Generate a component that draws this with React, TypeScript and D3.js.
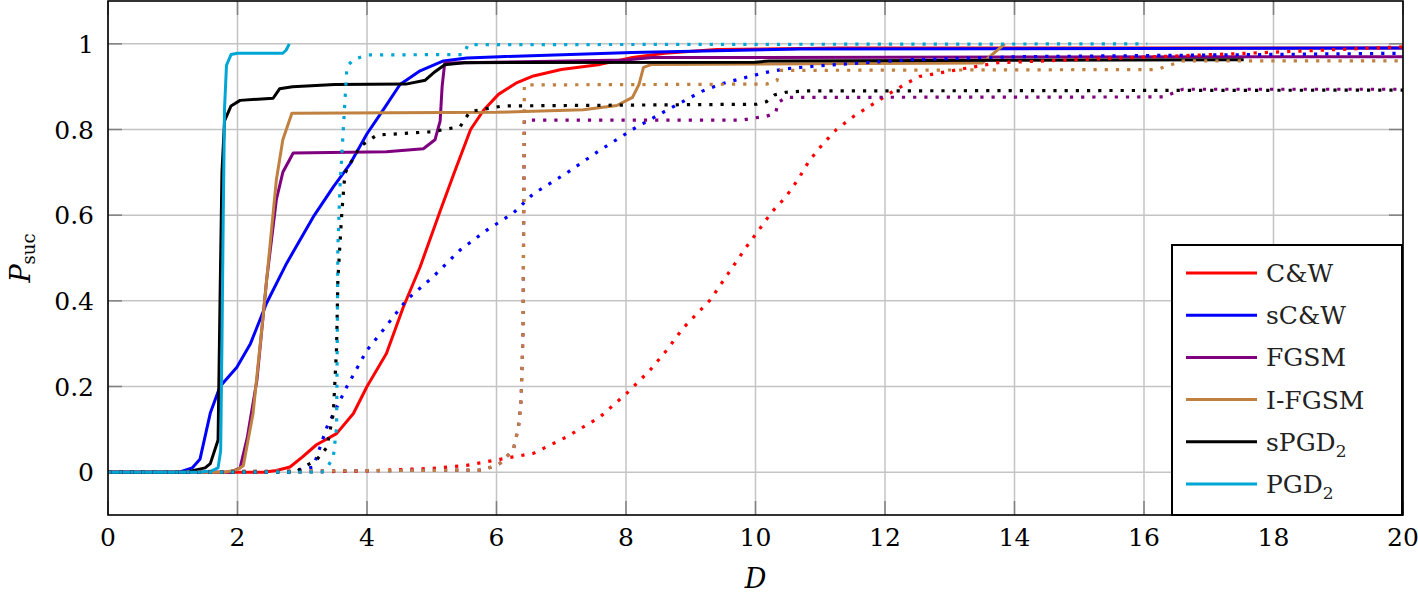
import React from 'react';
import * as d3 from 'd3';

type Pt = [number, number];

// solid curves
const cwSolid: Pt[] = [[0,0],[2.4,0],[2.6,0.004],[2.81,0.012],[3.0,0.035],[3.22,0.064],[3.53,0.09],[3.79,0.137],[4.0,0.2],[4.3,0.277],[4.56,0.385],[4.82,0.479],[5.13,0.61],[5.35,0.7],[5.6,0.8],[5.8,0.845],[6.03,0.882],[6.3,0.908],[6.57,0.925],[7.0,0.94],[7.6,0.952],[8.1,0.968],[8.6,0.978],[9.4,0.987],[11.3,0.99],[20,0.99]];
const scwSolid: Pt[] = [[0,0],[1.1,0],[1.3,0.01],[1.42,0.03],[1.58,0.138],[1.73,0.2],[1.99,0.245],[2.2,0.3],[2.45,0.395],[2.76,0.488],[3.17,0.596],[3.48,0.666],[3.74,0.72],[4.0,0.79],[4.25,0.846],[4.51,0.905],[4.82,0.937],[5.18,0.96],[5.54,0.967],[6.05,0.97],[8.1,0.98],[10.7,0.988],[20,0.99]];
const fgsmSolid: Pt[] = [[0,0],[1.9,0],[2.04,0.01],[2.15,0.08],[2.3,0.215],[2.45,0.449],[2.6,0.636],[2.7,0.7],[2.86,0.745],[4.3,0.748],[4.87,0.755],[5.05,0.776],[5.13,0.82],[5.16,0.9],[5.2,0.955],[8.0,0.962],[8.4,0.968],[20,0.97]];
const ifgsmSolid: Pt[] = [[0,0],[1.8,0],[2.0,0.006],[2.09,0.015],[2.24,0.137],[2.4,0.371],[2.5,0.526],[2.6,0.682],[2.7,0.776],[2.84,0.838],[6.0,0.84],[7.34,0.846],[7.86,0.856],[8.1,0.875],[8.2,0.905],[8.27,0.945],[8.4,0.952],[13.5,0.955],[13.85,1.0]];
const spgdSolid: Pt[] = [[0,0],[1.2,0],[1.5,0.01],[1.58,0.02],[1.7,0.075],[1.73,0.4],[1.76,0.7],[1.8,0.82],[1.9,0.855],[2.04,0.868],[2.55,0.873],[2.65,0.895],[2.85,0.9],[3.5,0.905],[4.6,0.906],[4.9,0.915],[5.05,0.935],[5.2,0.951],[5.5,0.956],[10.0,0.957],[10.2,0.96],[17.54,0.963]];
const pgdSolid: Pt[] = [[0,0],[1.4,0],[1.6,0.003],[1.7,0.01],[1.74,0.05],[1.76,0.3],[1.78,0.6],[1.8,0.85],[1.83,0.95],[1.9,0.975],[2.0,0.978],[2.7,0.978],[2.75,0.985],[2.8,1.0]];

// dotted curves
const cwDot: Pt[] = [[0,0],[3,0],[4,0.003],[5.02,0.009],[5.54,0.016],[6.05,0.03],[6.57,0.044],[7.08,0.082],[7.6,0.129],[8.01,0.184],[8.37,0.238],[8.63,0.285],[8.88,0.336],[9.3,0.402],[9.58,0.464],[9.86,0.526],[10.05,0.565],[10.25,0.607],[10.47,0.643],[10.66,0.684],[10.83,0.727],[11.04,0.766],[11.25,0.8],[11.51,0.83],[11.79,0.857],[12.08,0.885],[12.36,0.91],[12.54,0.924],[13.25,0.943],[13.75,0.956],[15.5,0.966],[17.6,0.978],[20,0.993]];
const scwDot: Pt[] = [[0,0],[2.76,0],[3.17,0.012],[3.38,0.105],[3.69,0.2],[4.0,0.285],[4.25,0.332],[4.61,0.402],[5.02,0.456],[5.44,0.519],[5.85,0.565],[6.26,0.605],[6.57,0.65],[7.08,0.698],[7.6,0.752],[8.1,0.8],[8.63,0.845],[9.17,0.889],[9.48,0.907],[9.81,0.92],[10.15,0.933],[10.48,0.942],[11.0,0.949],[11.72,0.956],[12.4,0.963],[14.1,0.97],[20,0.978]];
const fgsmDot: Pt[] = [[0,0],[5.8,0.005],[6.05,0.02],[6.26,0.052],[6.34,0.106],[6.38,0.168],[6.41,0.33],[6.42,0.6],[6.43,0.822],[9.8,0.822],[9.98,0.827],[10.15,0.83],[10.31,0.838],[10.35,0.863],[10.47,0.875],[16.3,0.876],[16.6,0.894],[20,0.894]];
const ifgsmDot: Pt[] = [[0,0],[5.8,0.005],[6.05,0.02],[6.26,0.052],[6.34,0.106],[6.38,0.168],[6.41,0.33],[6.42,0.6],[6.43,0.904],[10.17,0.906],[10.33,0.914],[10.38,0.938],[16.2,0.94],[16.6,0.96],[20,0.96]];
const spgdDot: Pt[] = [[0,0],[2.9,0],[3.02,0.012],[3.22,0.028],[3.38,0.058],[3.48,0.137],[3.53,0.29],[3.55,0.449],[3.61,0.604],[3.66,0.698],[3.89,0.76],[4.15,0.787],[5.02,0.795],[5.44,0.807],[5.59,0.842],[6.1,0.855],[10.02,0.859],[10.17,0.865],[10.3,0.881],[10.47,0.887],[10.81,0.89],[20,0.892]];
const pgdDot: Pt[] = [[0,0],[3.3,0],[3.38,0.01],[3.48,0.035],[3.53,0.105],[3.54,0.29],[3.55,0.525],[3.58,0.66],[3.63,0.79],[3.69,0.947],[3.79,0.963],[4.0,0.974],[5.49,0.975],[5.56,0.998],[16.05,1.0]];

const names = ['C&W', 'sC&W', 'FGSM', 'I-FGSM', 'sPGD', 'PGD'];
const subs = ['', '', '', '', '2', '2'];
const colors = ['#ff0000', '#0000ff', '#7f007f', '#bf8040', '#000000', '#00a6d6'];
const solids = [cwSolid, scwSolid, fgsmSolid, ifgsmSolid, spgdSolid, pgdSolid];
const dots = [cwDot, scwDot, fgsmDot, ifgsmDot, spgdDot, pgdDot];

const xTicks = [0, 2, 4, 6, 8, 10, 12, 14, 16, 18, 20];
const yTicks = [0, 0.2, 0.4, 0.6, 0.8, 1];

const W = 1418, H = 596;
const left = 108, right = 1403, top = 1, bottom = 515;
const font = '"DejaVu Serif", serif';

export default function App() {
  const x = d3.scaleLinear().domain([0, 20]).range([left, right]);
  const y = d3.scaleLinear().domain([-0.1, 1.1]).range([bottom, top]);
  const line = d3.line<Pt>().x(d => x(d[0])).y(d => y(d[1]));

  const legX = 1172, legY = 245, legW = 230, legH = 270;
  const rowY = (i: number) => legY + 28 + i * 42.2;

  return (
    <svg width={W} height={H} style={{ position: 'absolute', left: 0, top: 0, background: '#fff' }}>
      <rect x={left} y={top} width={right - left} height={bottom - top} fill="#fff" />
      {/* grid */}
      {xTicks.map(t => (
        <line key={'gx' + t} x1={x(t)} x2={x(t)} y1={top} y2={bottom} stroke="#c4c4c4" strokeWidth={1.5} />
      ))}
      {yTicks.map(t => (
        <line key={'gy' + t} x1={left} x2={right} y1={y(t)} y2={y(t)} stroke="#c4c4c4" strokeWidth={1.5} />
      ))}
      {/* inward ticks */}
      {xTicks.map(t => (
        <g key={'tx' + t} stroke="#808080" strokeWidth={1.5}>
          <line x1={x(t)} x2={x(t)} y1={top} y2={top + 14} />
          <line x1={x(t)} x2={x(t)} y1={bottom} y2={bottom - 14} />
        </g>
      ))}
      {yTicks.map(t => (
        <g key={'ty' + t} stroke="#808080" strokeWidth={1.5}>
          <line x1={left} x2={left + 14} y1={y(t)} y2={y(t)} />
          <line x1={right} x2={right - 14} y1={y(t)} y2={y(t)} />
        </g>
      ))}
      {/* curves */}
      <g fill="none" strokeLinejoin="round">
        {solids.map((s, i) => (
          <path key={'s' + i} d={line(s) || ''} stroke={colors[i]} strokeWidth={3} />
        ))}
        {dots.map((s, i) => (
          <path key={'d' + i} d={line(s) || ''} stroke={colors[i]} strokeWidth={3.2} strokeDasharray="3.2 8" />
        ))}
      </g>
      {/* frame */}
      <rect x={left} y={top} width={right - left} height={bottom - top} fill="none" stroke="#000" strokeWidth={1.6} />
      {/* tick labels */}
      {xTicks.map(t => (
        <text key={'lx' + t} x={x(t)} y={546} textAnchor="middle" fontFamily={font} fontSize={25} fill="#000">{t}</text>
      ))}
      {yTicks.map(t => (
        <text key={'ly' + t} x={94} y={y(t)} dy="0.36em" textAnchor="end" fontFamily={font} fontSize={25} fill="#000">{t}</text>
      ))}
      {/* axis titles */}
      <text x={(left + right) / 2} y={588} textAnchor="middle" fontFamily={font} fontStyle="italic" fontSize={27} fill="#000">D</text>
      <text transform={`translate(30,${(top + bottom) / 2}) rotate(-90)`} textAnchor="middle" fontFamily={font} fill="#000">
        <tspan fontStyle="italic" fontSize={27}>P</tspan>
        <tspan fontSize={18} dy={5}>suc</tspan>
      </text>
      {/* legend */}
      <rect x={legX} y={legY} width={legW} height={legH} fill="#fff" stroke="#000" strokeWidth={2} />
      {names.map((n, i) => (
        <g key={'leg' + i}>
          <line x1={1186} x2={1257} y1={rowY(i)} y2={rowY(i)} stroke={colors[i]} strokeWidth={3} />
          <text x={1266} y={rowY(i)} dy="0.36em" fontFamily={font} fontSize={25} fill="#222">
            {n}
            {subs[i] && <tspan fontSize={17} dy={6}>{subs[i]}</tspan>}
          </text>
        </g>
      ))}
    </svg>
  );
}
